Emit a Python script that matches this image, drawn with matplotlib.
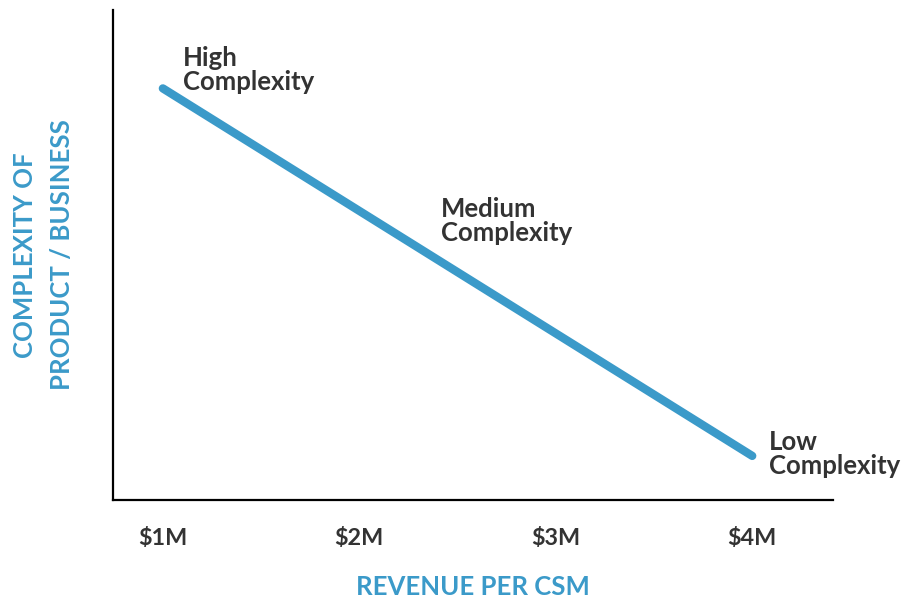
import numpy as np
import matplotlib.pyplot as plt

# datos
ingreso = [1, 2.5, 4]
complejidad = [8.4, 4.65, 0.9]
etiquetas = ['High\nComplexity', 'Medium\nComplexity', 'Low\nComplexity']
desplazamientos = [(20, -6), (-17, 27), (17, -22)]
ticks = [1, 2, 3, 4]
tick_labels = ['$1M', '$2M', '$3M', '$4M']

azul = '#3b9ac9'
gris = '#333333'
plt.rcParams['font.family'] = ['Lato', 'DejaVu Sans']

fig = plt.figure(figsize=(9.05, 6.01), dpi=100)
ax = fig.add_axes([113/905, 101/601, 720/905, 490/601])

ax.plot(ingreso, complejidad, color=azul, lw=6, solid_capstyle='round')

for xi, yi, txt, off in zip(ingreso, complejidad, etiquetas, desplazamientos):
    ax.annotate(txt, (xi, yi), xytext=off, textcoords='offset pixels',
                ha='left', va='bottom', fontsize=18.5, fontweight='bold',
                color=gris, linespacing=1.0)

ax.set_xlim(1 - 50/197, 4 + 81/197)
ax.set_ylim(0, 10)
ax.set_xticks(ticks)
ax.set_xticklabels(tick_labels, fontsize=16.8, fontweight='bold', color=gris)
ax.set_yticks([])
ax.tick_params(axis='x', length=0, pad=20)

for s in ['top', 'right']:
    ax.spines[s].set_visible(False)
for s in ['left', 'bottom']:
    ax.spines[s].set_linewidth(1.6)
    ax.spines[s].set_color('black')

ax.set_xlabel('REVENUE PER CSM', fontsize=18.5, fontweight='bold', color=azul, labelpad=19)
ax.set_ylabel('COMPLEXITY OF\nPRODUCT / BUSINESS', fontsize=18.5, fontweight='bold',
              color=azul, labelpad=28, linespacing=1.65)

plt.savefig('out.png', dpi=100)
plt.close()
